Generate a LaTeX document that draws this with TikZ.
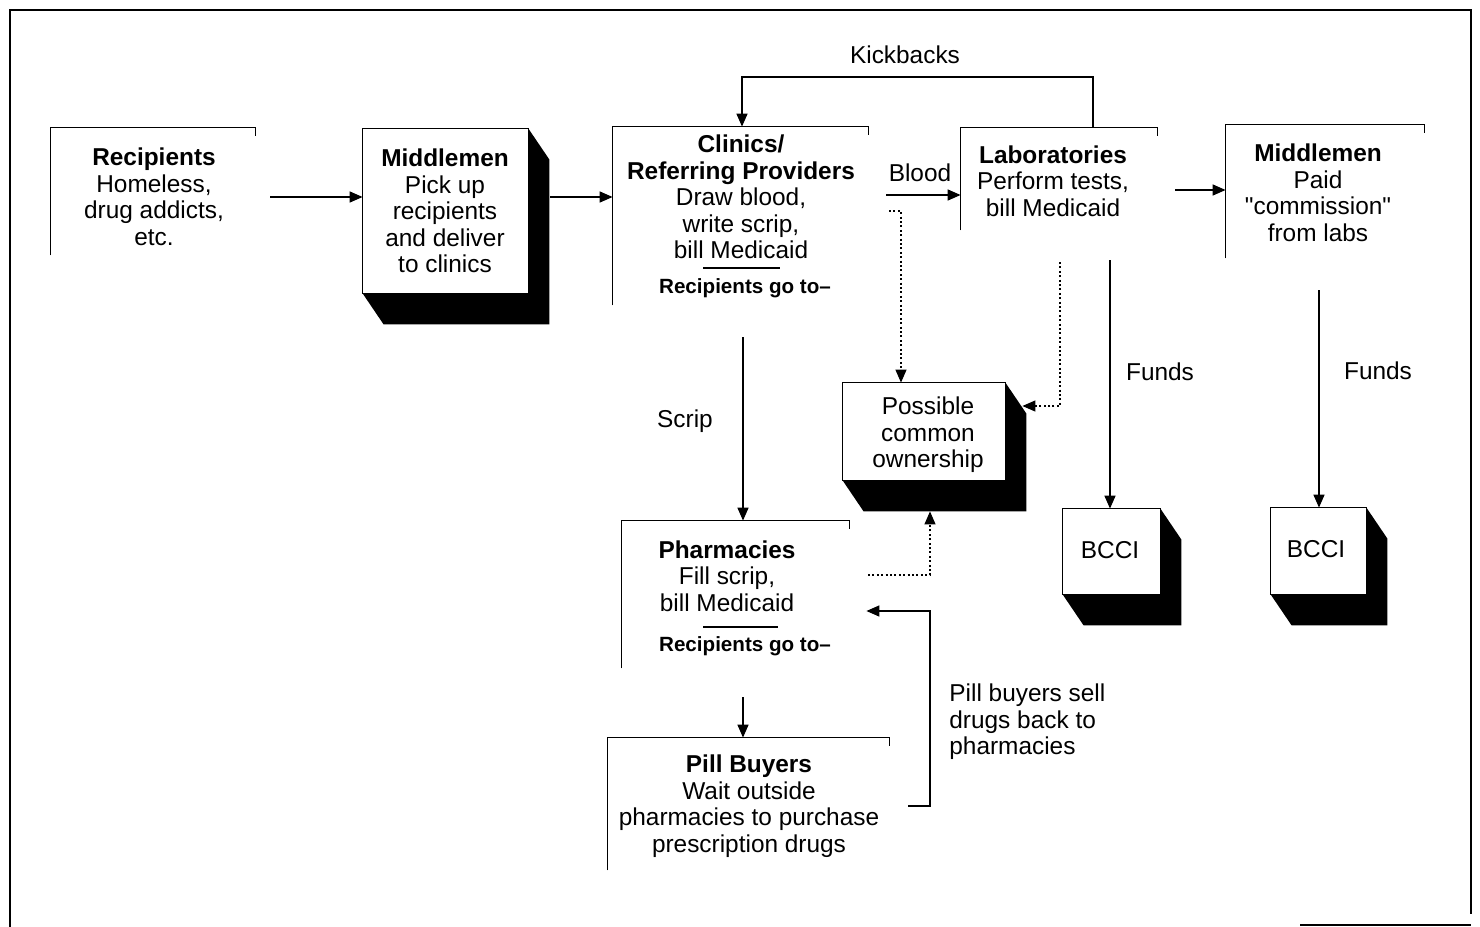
\documentclass[tikz,border=0pt]{standalone}
\usepackage{fontspec}
\setmainfont{Liberation Sans}
\usetikzlibrary{arrows.meta,calc,fit}
\tikzset{
  boxline/.style={line width=0.8pt},
  arr/.style={line width=0.75pt,-{Triangle[length=6.5pt,width=5.5pt]}},
  dotarr/.style={line width=0.6pt,dash pattern=on 1pt off 1.2pt,-{Triangle[length=6.5pt,width=5.5pt]}},
  txt/.style={align=center,inner sep=0pt,font=\fontsize{12.2}{13.25}\selectfont},
  subtxt/.style={inner sep=0pt,font=\fontsize{10.3}{12}\selectfont\bfseries},
  lbl/.style={inner sep=0pt,font=\fontsize{12.2}{13.25}\selectfont},
  frame/.style={line width=1pt}
}
\newcommand{\openbx}[3]{%
  \coordinate (#1-nw) at (#2); \coordinate (#1-se) at (#3);
  \node[fit=(#1-nw)(#1-se),inner sep=0pt] (#1) {};
  \draw[boxline] (#1.south west) -- (#1.north west) -- (#1.north east) -- ++(0,8);}
\newcommand{\shbx}[3]{%
  \coordinate (#1-nw) at (#2); \coordinate (#1-se) at (#3);
  \node[fit=(#1-nw)(#1-se),inner sep=0pt] (#1) {};
  \fill[black] (#1.north east) -- ($(#1.north east)+(21,31)$) -- ($(#1.south east)+(21,31)$)
     -- ($(#1.south west)+(21,31)$) -- (#1.south west) -- (#1.south east) -- cycle;
  \draw[boxline,fill=white] (#1.north west) rectangle (#1.south east);}
\begin{document}
\begin{tikzpicture}[x=0.5pt,y=-0.5pt]
\useasboundingbox (0,0) rectangle (1480,927);
% frame
\draw[frame] (10,927) -- (10,10) -- (1471,10) -- (1471,914);
\draw[frame] (1300,925) -- (1471,925);

% boxes
\openbx{rec}{51,128}{255,255}
\shbx{mid1}{363,129}{528,293}
\openbx{clin}{613,127}{868,305}
\openbx{lab}{961,128}{1157,230}
\openbx{mid2}{1226,125}{1424,258}
\shbx{pco}{843,383}{1005,480}
\shbx{bc1}{1063,509}{1160,594}
\shbx{bc2}{1271,508}{1366,594}
\openbx{pharm}{622,521}{849,668}
\openbx{pill}{608,738}{889,870}

% texts
\node[txt] (recT) at (154,197) {\textbf{Recipients}\\Homeless,\\drug addicts,\\etc.};
\node[txt] (mid1T) at (445,211) {\textbf{Middlemen}\\Pick up\\recipients\\and deliver\\to clinics};
\node[txt] (clinT) at (741,197) {\textbf{Clinics/}\\\textbf{Referring Providers}\\Draw blood,\\write scrip,\\bill Medicaid};
\draw[line width=0.8pt] (703,268) -- (780,268);
\node[subtxt] (clinS) at (745,288) {Recipients go to--};
\node[txt] (labT) at (1053,181) {\textbf{Laboratories}\\Perform tests,\\bill Medicaid};
\node[txt] (mid2T) at (1318,193) {\textbf{Middlemen}\\Paid\\\textquotedbl commission\textquotedbl\\from labs};
\node[txt] (pcoT) at (928,435) {Possible\\common\\ownership};
\node[txt] (bc1T) at (1110,550) {BCCI};
\node[txt] (bc2T) at (1316,549) {BCCI};
\node[txt] (pharmT) at (727,576) {\textbf{Pharmacies}\\Fill scrip,\\bill Medicaid};
\draw[line width=0.8pt] (703,627) -- (778,627);
\node[subtxt] (pharmS) at (745,646) {Recipients go to--};
\node[txt] (pillT) at (749,806) {\textbf{Pill Buyers}\\Wait outside\\pharmacies to purchase\\prescription drugs};

% labels
\node[lbl] (kbL) at (905,55) {Kickbacks};
\node[lbl] (blL) at (920,173) {Blood};
\node[lbl] (scL) at (685,421) {Scrip};
\node[lbl] (fu1L) at (1160,372) {Funds};
\node[lbl] (fu2L) at (1378,371) {Funds};
\node[txt,align=left,anchor=west] (sellL) at (949,722) {Pill buyers sell\\drugs back to\\pharmacies};

% connectors
\coordinate (a1) at (270,197); \draw[arr] (a1) -- (a1 -| mid1.west);
\coordinate (a2) at (550,197); \draw[arr] (a2) -- (a2 -| clin.west);
\coordinate (k1) at (1093,77); \coordinate (k2) at (742,77);
\draw[arr] (k1 |- lab.north) -- (k1) -- (k2) -- (k2 |- clin.north);
\coordinate (b1) at (886,195); \draw[arr] (b1) -- (b1 -| lab.west);
\coordinate (d1) at (889,211); \coordinate (d1b) at (901,211);
\draw[dotarr] (d1) -- (d1b) -- (d1b |- pco.north);
\coordinate (a3) at (1175,190); \draw[arr] (a3) -- (a3 -| mid2.west);
\coordinate (f1) at (1110,260); \draw[arr] (f1) -- (f1 |- bc1.north);
\coordinate (f2) at (1319,290); \draw[arr] (f2) -- (f2 |- bc2.north);
\coordinate (d2) at (1060,262); \coordinate (d2b) at (1060,406);
\draw[dotarr] (d2) -- (d2b) -- ($(d2b -| pco.east)+(17,0)$);
\coordinate (s1) at (743,337); \draw[arr] (s1) -- (s1 |- pharm.north);
\coordinate (d3) at (868,575); \coordinate (d3b) at (930,575);
\draw[dotarr] (d3) -- (d3b) -- ($(d3b |- pco.south)+(0,31)$);
\coordinate (p0) at (908,806); \coordinate (p1) at (930,806); \coordinate (p2) at (930,611);
\draw[arr] (p0) -- (p1) -- (p2) -- ($(p2 -| pharm.east)+(17,0)$);
\coordinate (q1) at (743,697); \draw[arr] (q1) -- (q1 |- pill.north);
\end{tikzpicture}
\end{document}
